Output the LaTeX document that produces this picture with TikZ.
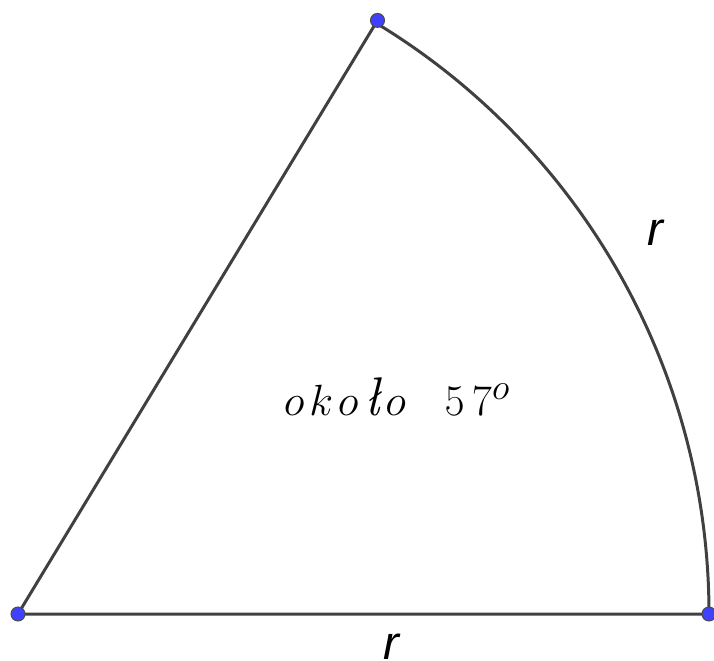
\documentclass[tikz,border=0pt]{standalone}
\usepackage{fontspec}
\usetikzlibrary{calc}
\newfontfamily\labelfont{Liberation Sans}
\tikzset{
  edge/.style={draw=black!75,line width=1.7pt},
  pt/.style={circle,fill=blue!75,draw=black!70,line width=0.6pt,inner sep=0pt,minimum size=0.28cm},
  rlabel/.style={font=\labelfont\itshape\fontsize{27}{30}\selectfont}
}
\begin{document}
\begin{tikzpicture}[x=0.02cm,y=-0.02cm]
  \useasboundingbox (0,0) rectangle (714,660);
  \coordinate (O) at (18,614);
  \coordinate (B) at (709,614);
  \coordinate (C) at ($(O)+(-58.8:694)$);
  \draw[edge] (C) -- (O) -- (B);
  \draw[edge] (B) arc[start angle=0,end angle=-58.8,radius=691];
  \node[rlabel] (rarc) at (655,233) {r};
  \node[rlabel,anchor=north] (rbase) at (391,628) {r};
  \node[anchor=base,font=\fontsize{31}{34}\selectfont] (angle) at (397,415)
    {$o\mkern2mu k\mkern2mu o\mkern2mu\textit{ł}\mkern2mu o\mkern16mu 5\,7^o$};
  \foreach \p in {O,B,C}
    \node[pt] at (\p) {};
\end{tikzpicture}
\end{document}
